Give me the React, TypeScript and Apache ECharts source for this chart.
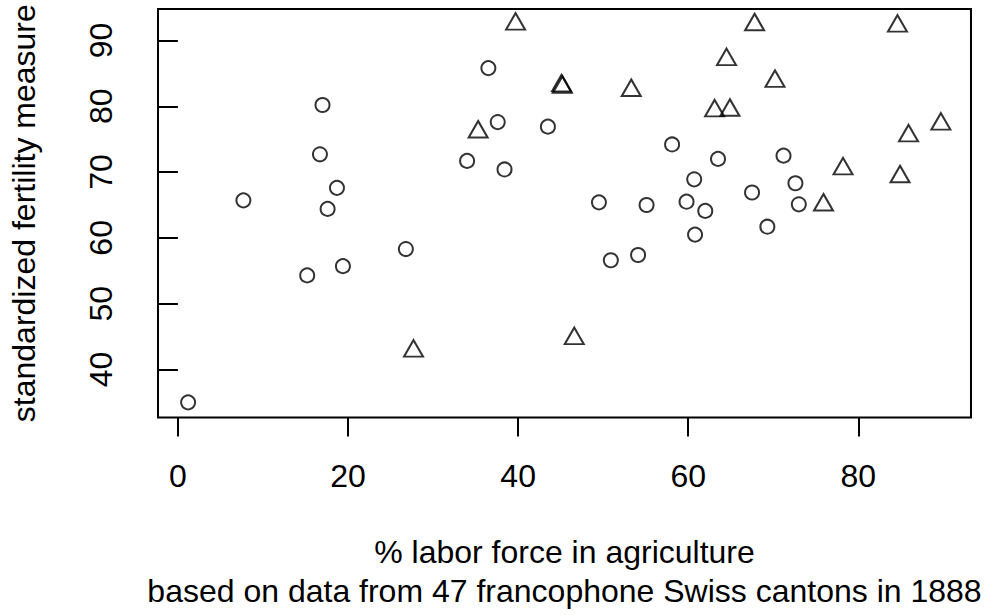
import React, { useEffect, useRef } from "react";
import * as echarts from "echarts";

const cantons = ["Courtelary","Delemont","Franches-Mnt","Moutier","Neuveville","Porrentruy","Broye","Glane","Gruyere","Sarine","Veveyse","Aigle","Aubonne","Avenches","Cossonay","Echallens","Grandson","Lausanne","La Vallee","Lavaux","Morges","Moudon","Nyone","Orbe","Oron","Payerne","Paysd'enhaut","Rolle","Vevey","Yverdon","Conthey","Entremont","Herens","Martigwy","Monthey","St Maurice","Sierre","Sion","Boudry","La Chauxdfnd","Le Locle","Neuchatel","Val de Ruz","ValdeTravers","V. De Geneve","Rive Droite","Rive Gauche"];
const agriculture = [17.0,45.1,39.7,36.5,43.5,35.3,70.2,67.8,53.3,45.2,64.5,62.0,67.5,60.7,69.3,72.6,34.0,19.4,15.2,73.0,59.8,55.1,50.9,54.1,71.2,58.1,63.5,60.8,26.8,49.5,85.9,84.9,89.7,78.2,64.9,75.9,84.6,63.1,38.4,7.7,16.7,17.6,37.6,18.7,1.2,46.6,27.7];
const fertility = [80.2,83.1,92.5,85.8,76.9,76.1,83.8,92.4,82.4,82.9,87.1,64.1,66.9,68.9,61.7,68.3,71.7,55.7,54.3,65.1,65.5,65.0,56.6,57.4,72.5,74.2,72.0,60.5,58.3,65.4,75.5,69.3,77.3,70.5,79.4,65.0,92.2,79.3,70.4,65.7,72.7,64.4,77.6,67.6,35.0,44.7,42.8];
const catholic = [9.96,84.84,93.40,33.77,5.16,90.57,92.85,97.16,97.67,91.38,98.61,8.52,2.27,4.43,2.82,24.20,3.30,12.11,2.15,2.84,5.23,4.52,15.14,4.20,2.40,5.23,2.56,7.72,18.46,6.10,99.71,99.68,100.00,98.96,98.22,99.06,99.46,96.83,5.62,13.79,11.22,16.92,4.97,8.65,42.34,50.43,58.33];

const xTicks = [0, 20, 40, 60, 80];
const yTicks = [40, 50, 60, 70, 80, 90];
const xTitle = "% labor force in agriculture";
const subTitle = "based on data from 47 francophone Swiss cantons in 1888";
const yTitle = "standardized fertility measure";

export default function App() {
  const ref = useRef<HTMLDivElement>(null);
  useEffect(() => {
    if (!ref.current) return;
    const chart = echarts.init(ref.current, undefined, { renderer: "svg" });
    const extent = (a: number[]) => {
      const lo = Math.min(...a), hi = Math.max(...a);
      const d = (hi - lo) * 0.04;
      return [lo - d, hi + d];
    };
    const [xMin, xMax] = extent(agriculture);
    const [yMin, yMax] = extent(fertility);
    const protestant: any[] = [];
    const catholicMaj: any[] = [];
    cantons.forEach((name, i) => {
      const pt = { name, value: [agriculture[i], fertility[i]] };
      if (catholic[i] > 50) catholicMaj.push(pt);
      else protestant.push(pt);
    });
    const font = "'Liberation Sans', Arial, Helvetica, sans-serif";
    const fs = 32;
    chart.setOption({
      animation: false,
      backgroundColor: "#fff",
      grid: {
        left: 156.7,
        top: 8.9,
        width: 818.2,
        height: 414.9,
        show: true,
        borderColor: "#000",
        borderWidth: 2,
        backgroundColor: "transparent",
      },
      xAxis: {
        type: "value",
        min: xMin,
        max: xMax,
        splitLine: { show: false },
        axisLine: { show: false },
        axisTick: { show: true, inside: false, length: 19, customValues: xTicks, lineStyle: { color: "#000", width: 2 } },
        axisLabel: { customValues: xTicks, margin: 42, color: "#000", fontSize: fs, fontFamily: font },
        name: xTitle + "\n" + subTitle,
        nameLocation: "middle",
        nameGap: 115.7,
        nameTextStyle: { color: "#000", fontSize: fs, fontFamily: font, lineHeight: 38.4 },
      },
      yAxis: {
        type: "value",
        min: yMin,
        max: yMax,
        splitLine: { show: false },
        axisLine: { show: false },
        axisTick: { show: true, inside: false, length: 19, customValues: yTicks, lineStyle: { color: "#000", width: 2 } },
        axisLabel: { customValues: yTicks, rotate: 90, margin: 41, color: "#000", fontSize: fs, fontFamily: font },
        name: yTitle,
        nameLocation: "middle",
        nameRotate: 90,
        nameGap: 118,
        nameTextStyle: { color: "#000", fontSize: fs, fontFamily: font },
      },
      series: [
        {
          type: "scatter",
          data: protestant,
          symbol: "circle",
          symbolSize: 14,
          itemStyle: { color: "transparent", borderColor: "#000", borderWidth: 2 },
          emphasis: { disabled: true },
        },
        {
          type: "scatter",
          data: catholicMaj,
          symbol: "triangle",
          symbolSize: [19, 16.5],
          symbolOffset: [0, -2.7],
          itemStyle: { color: "transparent", borderColor: "#000", borderWidth: 2 },
          emphasis: { disabled: true },
        },
      ],
    });
    return () => chart.dispose();
  }, []);
  return <div ref={ref} style={{ position: "fixed", left: 0, top: 0, width: 984, height: 615 }} />;
}
